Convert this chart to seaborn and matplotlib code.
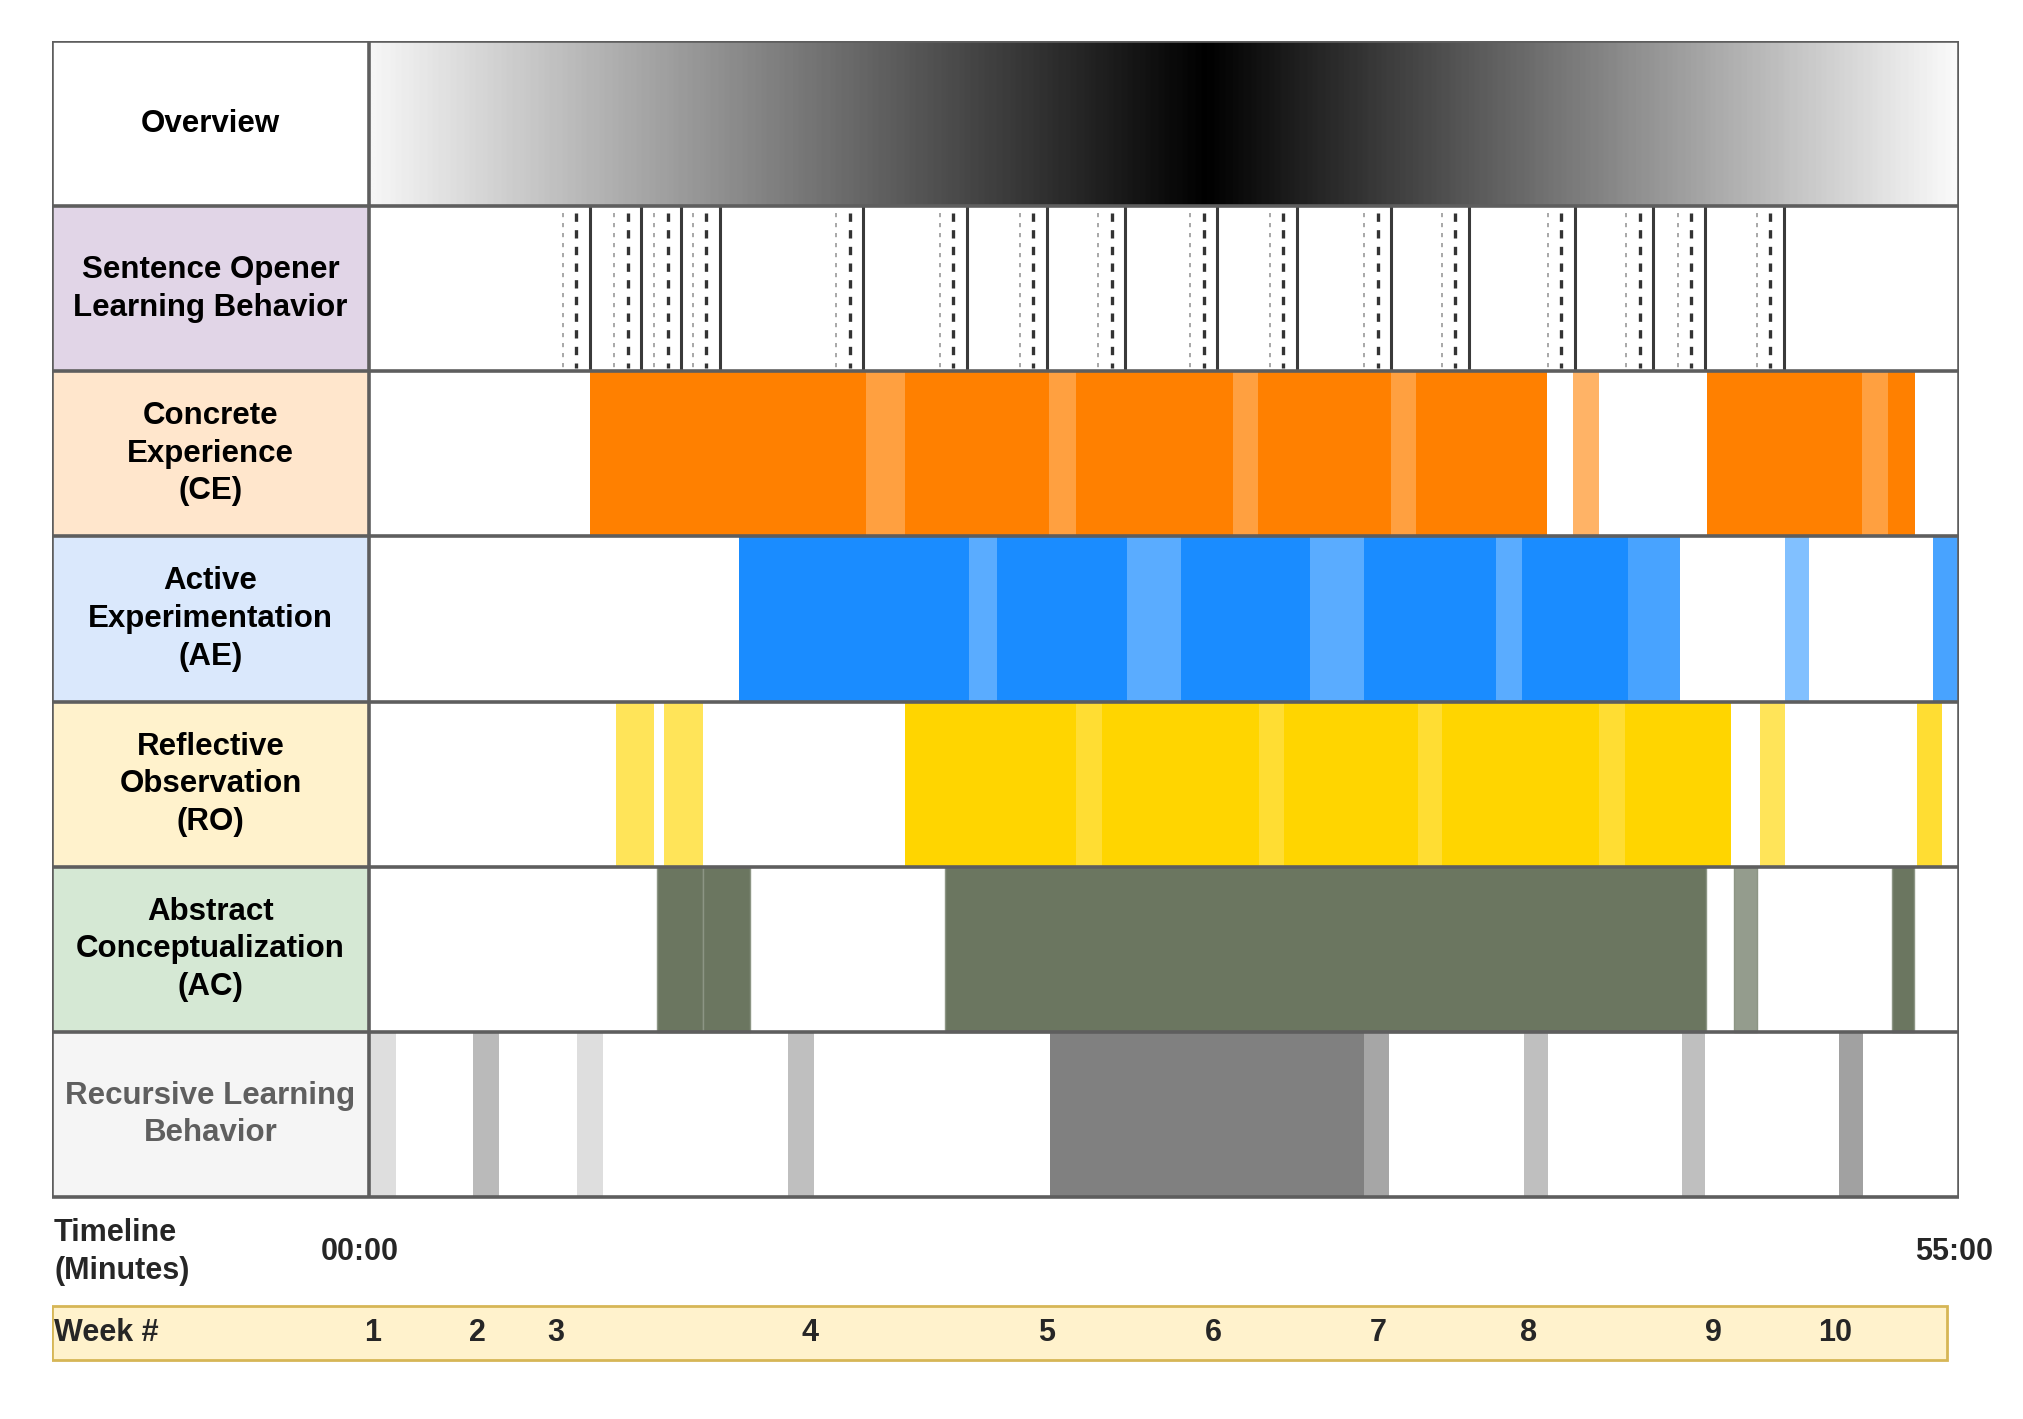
import numpy as np
import matplotlib
matplotlib.use("Agg")
import matplotlib.pyplot as plt
from matplotlib.colors import LinearSegmentedColormap, to_rgb
import seaborn as sns

sns.set_theme(style="white")
plt.rcParams['font.family'] = ['Liberation Sans', 'DejaVu Sans']

# ---------------- data (minutes of the 55 minute session) ----------------
session_len = 55

row_labels = ["Overview",
              "Sentence Opener\nLearning Behavior",
              "Concrete\nExperience\n(CE)",
              "Active\nExperimentation\n(AE)",
              "Reflective\nObservation\n(RO)",
              "Abstract\nConceptualization\n(AC)",
              "Recursive Learning\nBehavior"]
row_fill = ["#FFFFFF", "#E1D5E7", "#FFE6CC", "#DAE8FC", "#FFF2CC", "#D5E8D4", "#F5F5F5"]
row_text = ["black", "black", "black", "black", "black", "black", "#5F5F5F"]

overview_peak = 29.0

opener_times = [7.63, 9.42, 10.80, 12.14, 17.10, 20.67, 23.44, 26.16,
                29.35, 32.10, 35.36, 38.04, 41.70, 44.42, 46.21, 48.93]

ce_start = [7.63, 17.19, 18.53, 23.53, 24.46, 29.87, 30.76, 35.36, 36.21, 41.65, 46.29, 51.65, 52.54]
ce_end = [17.19, 18.53, 23.53, 24.46, 29.87, 30.76, 35.36, 36.21, 40.76, 42.54, 51.65, 52.54, 53.48]
ce_level = [1, .75, 1, .75, 1, .75, 1, .75, 1, .6, 1, .75, 1]

ae_start = [12.79, 20.76, 21.73, 26.23, 28.09, 32.55, 34.41, 38.97, 39.88, 43.56, 48.99, 54.09]
ae_end = [20.76, 21.73, 26.23, 28.09, 32.55, 34.41, 38.97, 39.88, 43.56, 45.34, 49.81, 55.0]
ae_level = [1, .72, 1, .72, 1, .72, 1, .72, 1, .8, .55, .8]

ro_start = [8.54, 10.22, 18.55, 24.44, 25.34, 30.77, 31.66, 36.30, 37.12, 42.54, 43.43, 48.10, 53.56]
ro_end = [9.87, 11.54, 24.44, 25.34, 30.77, 31.66, 36.30, 37.12, 42.54, 43.43, 47.13, 48.99, 54.42]
ro_level = [.65, .65, 1, .8, 1, .8, 1, .8, 1, .8, 1, .65, .8]

ac_start = [9.97, 11.54, 19.94, 47.20, 52.67]
ac_end = [11.54, 13.19, 46.24, 48.02, 53.46]
ac_level = [1, 1, 1, .72, 1]

rlb_start = [0.04, 3.61, 7.19, 14.51, 23.55, 34.41, 39.95, 45.42, 50.84]
rlb_end = [0.94, 4.51, 8.08, 15.40, 34.41, 35.30, 40.77, 46.20, 51.67]
rlb_level = [.13, .27, .13, .25, .5, .35, .25, .25, .37]

week_labels = ["1", "2", "3", "4", "5", "6", "7", "8", "9", "10"]
week_pos = [0.13, 3.75, 6.47, 15.27, 23.44, 29.2, 34.9, 40.1, 46.5, 50.7]

timeline_labels = ["00:00", "55:00"]

# ---------------- layout ----------------
W, H = 2024, 1419
fig = plt.figure(figsize=(W / 100, H / 100), dpi=100)
left_px, split_px, right_px = 52, 369, 1959
top_px, bottom_px = 41, 1362
ax = fig.add_axes([left_px / W, 1 - bottom_px / H, (right_px - left_px) / W, (bottom_px - top_px) / H])

px_per_min = (right_px - split_px) / session_len
lab_w = (split_px - left_px) / px_per_min
row_h_px = (1197 - top_px) / 7.0
n_rows = 7


def blend(color, level):
    c = np.array(to_rgb(color))
    return tuple(1 - level * (1 - c))


# label column
for i, (lab, fc, tc) in enumerate(zip(row_labels, row_fill, row_text)):
    ax.add_patch(plt.Rectangle((-lab_w, i), lab_w, 1, facecolor=fc, edgecolor="none", zorder=1))
    ax.text(-lab_w / 2, i + 0.5, lab, ha="center", va="center", fontsize=22.5,
            fontweight="bold", color=tc, linespacing=1.33, zorder=5)

# overview gradient
cmap = LinearSegmentedColormap.from_list(
    "ov", [(0, "#F6F6F6"), (overview_peak / session_len, "black"), (1, "#FAFAFA")])
grad = np.linspace(0, 1, 600).reshape(1, -1)
ax.imshow(grad, cmap=cmap, aspect="auto", extent=[0, session_len, 1, 0], zorder=1)

# sentence opener markers
for t in opener_times:
    ax.vlines(t, 1, 2, color="#3A3A3A", lw=2.2, zorder=3)
    ax.vlines(t - 13.5 / px_per_min, 1.04, 1.98, color="#333333", lw=2.4,
              linestyles=(0, (2.5, 2.5)), zorder=3)
    ax.vlines(t - 27 / px_per_min, 1.04, 1.98, color="#9A9A9A", lw=1.2,
              linestyles=(0, (2.5, 3.5)), zorder=3)

# behaviour segments
segments = [(2, ce_start, ce_end, ce_level, "#FF8000", "none"),
            (3, ae_start, ae_end, ae_level, "#1A8CFF", "none"),
            (4, ro_start, ro_end, ro_level, "#FFD500", "none"),
            (5, ac_start, ac_end, ac_level, "#6B7660", "#8C9584"),
            (6, rlb_start, rlb_end, rlb_level, "#000000", "none")]
for row, st, en, lv, base, ec in segments:
    widths = np.array(en) - np.array(st)
    cols = [blend(base, l) for l in lv]
    ax.barh([row + 0.5] * len(st), widths, left=st, height=1.0,
            color=cols, edgecolor=ec, lw=1.0, zorder=2)

# grid lines
grid_c = "#5E5E5E"
for i in range(n_rows + 1):
    ax.hlines(i, -lab_w, session_len, color=grid_c, lw=2.6, zorder=4)
for x in [-lab_w, 0, session_len]:
    ax.vlines(x, 0, n_rows, color=grid_c, lw=2.6, zorder=4)

# timeline
y_tl = (1252 - top_px) / row_h_px
ax.text(-lab_w + 2 / px_per_min, y_tl, "Timeline\n(Minutes)", ha="left", va="center",
        fontsize=22, fontweight="bold", linespacing=1.33)
ax.text(-0.31, y_tl, timeline_labels[0], ha="center", va="center", fontsize=22, fontweight="bold")
ax.text(54.83, y_tl, timeline_labels[1], ha="center", va="center", fontsize=22, fontweight="bold")

# week bar
wb_top = (1306 - top_px) / row_h_px
wb_bot = (1360 - top_px) / row_h_px
wb_right = session_len - 12 / px_per_min
ax.add_patch(plt.Rectangle((-lab_w, wb_top), wb_right + lab_w, wb_bot - wb_top,
                           facecolor="#FFF2CC", edgecolor="#D6B656", lw=2, zorder=1))
y_wk = (wb_top + wb_bot) / 2
ax.text(-lab_w + 2 / px_per_min, y_wk, "Week #", ha="left", va="center",
        fontsize=22, fontweight="bold")
for lab, p in zip(week_labels, week_pos):
    ax.text(p, y_wk, lab, ha="center", va="center", fontsize=22, fontweight="bold")

ax.set_xlim(-lab_w, session_len)
ax.set_ylim((bottom_px - top_px) / row_h_px, 0)
ax.axis("off")

fig.savefig("out.png", dpi=100)
